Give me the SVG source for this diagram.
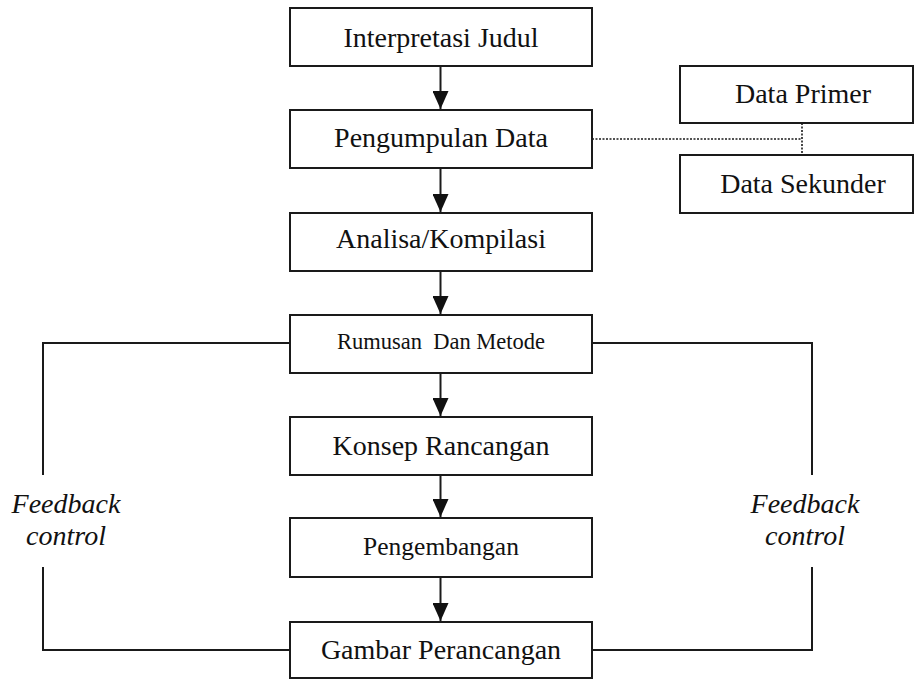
<svg xmlns="http://www.w3.org/2000/svg" width="915" height="679" viewBox="0 0 915 679">
  <style>
    .box { fill: #ffffff; stroke: #1a1a1a; stroke-width: 2; }
    .lbl { font-family: "Liberation Serif", "Times New Roman", serif; font-size: 28px; fill: #111111; text-anchor: middle; }
    .fb { font-family: "Liberation Serif", "Times New Roman", serif; font-size: 28px; font-style: italic; fill: #111111; text-anchor: middle; }
    .flow { fill: none; stroke: #1a1a1a; stroke-width: 2; marker-end: url(#arrow); }
    .fbline { fill: none; stroke: #1a1a1a; stroke-width: 2; }
    .dot { fill: none; stroke: #1a1a1a; stroke-width: 1.6; stroke-dasharray: 2 1.5; }
  </style>
  <defs>
    <marker id="arrow" viewBox="0 0 18 16" refX="18" refY="8" markerWidth="18" markerHeight="16" markerUnits="userSpaceOnUse" orient="auto">
      <path d="M0,0 L18,8 L0,16 z" fill="#111111"/>
    </marker>
  </defs>
  <rect width="915" height="679" fill="#ffffff"/>

  <g id="connectors">
    <line class="flow" x1="440.5" y1="66" x2="440.5" y2="109"/>
    <line class="flow" x1="440.5" y1="168" x2="440.5" y2="212"/>
    <line class="flow" x1="440.5" y1="271" x2="440.5" y2="314"/>
    <line class="flow" x1="440.5" y1="373" x2="440.5" y2="416"/>
    <line class="flow" x1="440.5" y1="475" x2="440.5" y2="517"/>
    <line class="flow" x1="440.5" y1="577" x2="440.5" y2="621"/>
    <polyline class="fbline" points="290,343 43,343 43,475"/>
    <polyline class="fbline" points="43,567 43,650 290,650"/>
    <polyline class="fbline" points="592,343 812,343 812,475"/>
    <polyline class="fbline" points="812,567 812,650 592,650"/>
    <line class="dot" x1="592" y1="139" x2="802" y2="139"/>
    <line class="dot" x1="802" y1="123" x2="802" y2="155"/>
  </g>

  <g id="interpretasi-judul">
    <rect class="box" x="290" y="8" width="302" height="58"/>
    <text class="lbl" x="441" y="47">Interpretasi Judul</text>
  </g>
  <g id="pengumpulan-data">
    <rect class="box" x="290" y="110" width="302" height="58"/>
    <text class="lbl" x="441" y="147">Pengumpulan Data</text>
  </g>
  <g id="analisa-kompilasi">
    <rect class="box" x="290" y="213" width="302" height="58"/>
    <text class="lbl" x="441" y="248">Analisa/Kompilasi</text>
  </g>
  <g id="rumusan-dan-metode">
    <rect class="box" x="290" y="315" width="302" height="58"/>
    <text class="lbl" x="441" y="349" style="font-size:22.5px; white-space:pre" xml:space="preserve">Rumusan  Dan Metode</text>
  </g>
  <g id="konsep-rancangan">
    <rect class="box" x="290" y="417" width="302" height="58"/>
    <text class="lbl" x="441" y="455">Konsep Rancangan</text>
  </g>
  <g id="pengembangan">
    <rect class="box" x="290" y="518" width="302" height="59"/>
    <text class="lbl" x="441" y="555" style="font-size:25.5px">Pengembangan</text>
  </g>
  <g id="gambar-perancangan">
    <rect class="box" x="290" y="622" width="302" height="56"/>
    <text class="lbl" x="441" y="659">Gambar Perancangan</text>
  </g>
  <g id="data-primer">
    <rect class="box" x="680" y="66" width="233" height="57"/>
    <text class="lbl" x="803" y="103">Data Primer</text>
  </g>
  <g id="data-sekunder">
    <rect class="box" x="680" y="155" width="233" height="58"/>
    <text class="lbl" x="803" y="193">Data Sekunder</text>
  </g>

  <g id="feedback-left">
    <text class="fb" x="66" y="513">Feedback</text>
    <text class="fb" x="66" y="545">control</text>
  </g>
  <g id="feedback-right">
    <text class="fb" x="805" y="513">Feedback</text>
    <text class="fb" x="805" y="545">control</text>
  </g>
</svg>
